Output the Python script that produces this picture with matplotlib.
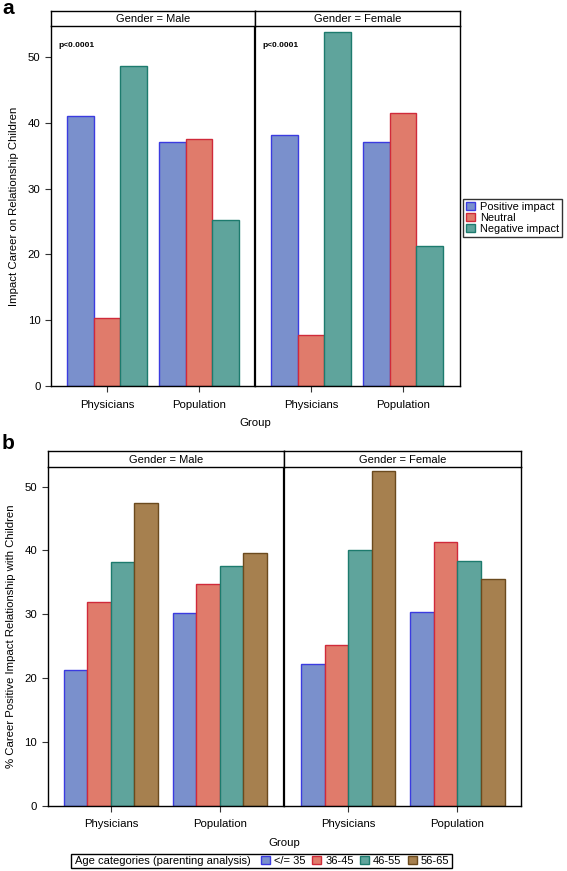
import numpy as np
import matplotlib
matplotlib.use("Agg")
import matplotlib.pyplot as plt
from matplotlib.patches import Patch, Rectangle

plt.rcParams['font.family'] = ['Liberation Sans', 'DejaVu Sans']

W, H = 567, 871

groups = ["Physicians", "Population"]
genders = ["Male", "Female"]

# panel a: impact of career on relationship with children
impact_labels = ["Positive impact", "Neutral", "Negative impact"]
a_male = {"Positive impact": [41.1, 37.1], "Neutral": [10.3, 37.5], "Negative impact": [48.6, 25.3]}
a_female = {"Positive impact": [38.2, 37.1], "Neutral": [7.8, 41.5], "Negative impact": [53.8, 21.3]}

# panel b: % positive impact by age category
age_labels = ["</= 35", "36-45", "46-55", "56-65"]
b_male = {"</= 35": [21.3, 30.2], "36-45": [31.9, 34.8], "46-55": [38.2, 37.5], "56-65": [47.4, 39.6]}
b_female = {"</= 35": [22.2, 30.3], "36-45": [25.1, 41.4], "46-55": [40.1, 38.3], "56-65": [52.4, 35.5]}

fills = ["#7A90CC", "#E07B6B", "#5FA49C", "#A6804F"]
edges = ["#3B3BE0", "#D02A3A", "#1D7B6E", "#6B4A1E"]

fig = plt.figure(figsize=(W / 100, H / 100), dpi=100)


def px_axes(x0, y0, x1, y1):
    return fig.add_axes([x0 / W, 1 - y1 / H, (x1 - x0) / W, (y1 - y0) / H])


def header(x0, y0, x1, y1, text):
    ax = px_axes(x0, y0, x1, y1)
    ax.set_xticks([])
    ax.set_yticks([])
    for s in ax.spines.values():
        s.set_linewidth(1.0)
    ax.text(0.5, 0.45, text, ha="center", va="center", fontsize=8, transform=ax.transAxes)


def panel(ax, data, labels, width, xlim, ylim, left, right):
    n = len(labels)
    x = np.arange(len(groups))
    for i, lab in enumerate(labels):
        off = (i - (n - 1) / 2) * width
        ax.bar(x + off, data[lab], width, color=fills[i], edgecolor=edges[i], linewidth=1.0)
    ax.set_xlim(*xlim)
    ax.set_ylim(*ylim)
    ax.set_xticks(x)
    ax.set_xticklabels(groups, fontsize=8.2)
    ax.set_yticks([0, 10, 20, 30, 40, 50])
    ax.tick_params(axis="both", direction="out", length=4, width=0.8, colors="#333333", labelcolor="black")
    ax.tick_params(axis="x", pad=6)
    ax.spines["top"].set_visible(False)
    ax.spines["right"].set_visible(right)
    ax.spines["left"].set_linewidth(1.0 if left else 1.6)
    for s in ["bottom", "right"]:
        ax.spines[s].set_linewidth(1.0)
    if not left:
        ax.tick_params(axis="y", left=False, labelleft=False)
    else:
        ax.tick_params(axis="y", labelsize=8.2)


# ---- panel a ----
ya0, ya1 = 26, 386
ylim_a = (0, (ya1 - ya0) / 6.58)
axm = px_axes(51, ya0, 255, ya1)
axf = px_axes(255, ya0, 460, ya1)
panel(axm, a_male, impact_labels, 0.29, (-0.61, 1.61), ylim_a, True, False)
panel(axf, a_female, impact_labels, 0.29, (-0.61, 1.62), ylim_a, False, True)
header(51, 11, 255, 26, "Gender = Male")
header(255, 11, 460, 26, "Gender = Female")
for ax in (axm, axf):
    ax.text(0.035, 0.955, "p<0.0001", transform=ax.transAxes, fontsize=6, fontweight="bold", va="top")
axm.set_ylabel("Impact Career on Relationship Children", fontsize=8.2, labelpad=6)
fig.text(255 / W, 1 - 423 / H, "Group", ha="center", va="center", fontsize=8.2)
fig.text(2 / W, 1 - 8 / H, "a", fontsize=15, fontweight="bold", va="center")
hand_a = [Patch(facecolor=fills[i], edgecolor=edges[i], label=l) for i, l in enumerate(impact_labels)]
fig.legend(handles=hand_a, loc="upper left", bbox_to_anchor=(463 / W, 1 - 199 / H), fontsize=7.9,
           frameon=True, fancybox=False, edgecolor="black", handlelength=0.8, handleheight=0.8,
           handletextpad=0.5, borderpad=0.25, labelspacing=0.1, borderaxespad=0)

# ---- panel b ----
yb0, yb1 = 466.7, 805.5
ylim_b = (0, (yb1 - yb0) / 6.376)
bxm = px_axes(47.7, yb0, 284, yb1)
bxf = px_axes(284, yb0, 520.7, yb1)
panel(bxm, b_male, age_labels, 0.216, (-0.58, 1.59), ylim_b, True, False)
panel(bxf, b_female, age_labels, 0.216, (-0.59, 1.58), ylim_b, False, True)
header(47.7, 450.7, 284, 466.7, "Gender = Male")
header(284, 450.7, 520.7, 466.7, "Gender = Female")
bxm.set_ylabel("% Career Positive Impact Relationship with Children", fontsize=8.2, labelpad=6)
fig.text(284 / W, 1 - 843 / H, "Group", ha="center", va="center", fontsize=8.2)
fig.text(2 / W, 1 - 443 / H, "b", fontsize=15, fontweight="bold", va="center")

# legend b: framed box with a leading caption
fig.patches.append(Rectangle((71 / W, 1 - 868 / H), (452 - 71) / W, 14 / H, transform=fig.transFigure,
                             facecolor="white", edgecolor="black", linewidth=1.0))
fig.text(75 / W, 1 - 861 / H, "Age categories (parenting analysis)", fontsize=8, va="center")
hand_b = [Patch(facecolor=fills[i], edgecolor=edges[i], label=l) for i, l in enumerate(age_labels)]
fig.legend(handles=hand_b, loc="center left", bbox_to_anchor=(261 / W, 1 - 861 / H), ncol=4, fontsize=8,
           frameon=False, handlelength=0.8, handleheight=0.8,
           handletextpad=0.4, borderpad=0, columnspacing=0.55, borderaxespad=0)

fig.savefig("out.png", dpi=100)
